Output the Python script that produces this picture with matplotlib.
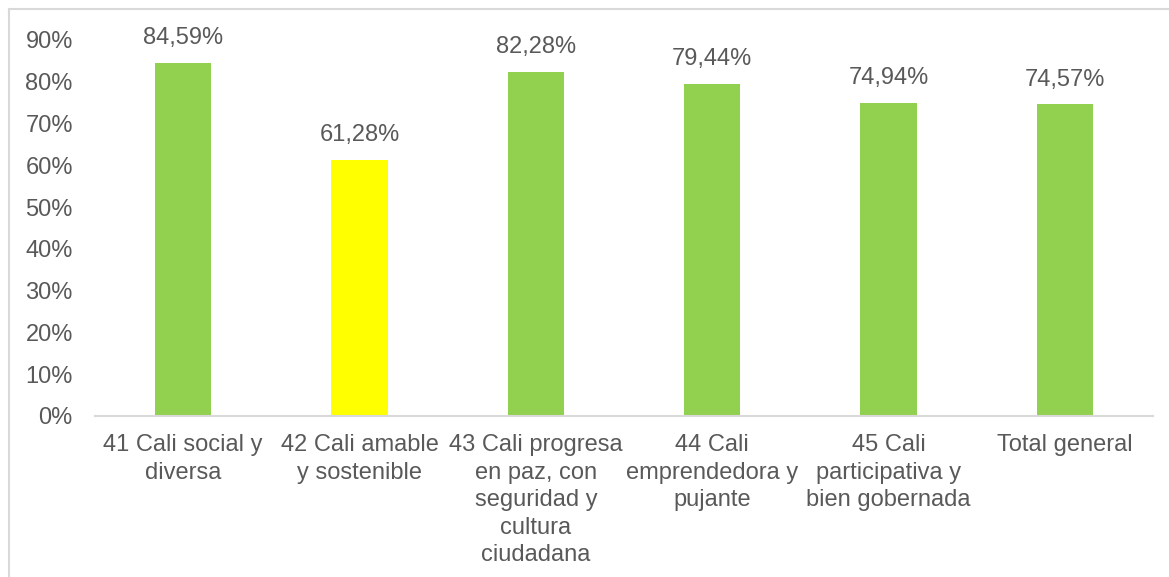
import matplotlib.pyplot as plt
from matplotlib.lines import Line2D
from matplotlib.ticker import PercentFormatter

categories = ['41 Cali social y\ndiversa', '42 Cali amable\ny sostenible',
              '43 Cali progresa\nen paz, con\nseguridad y\ncultura\nciudadana',
              '44 Cali\nemprendedora y\npujante', '45 Cali\nparticipativa y\nbien gobernada',
              'Total general']
values = [0.8459, 0.6128, 0.8228, 0.7944, 0.7494, 0.7457]
colors = ['#92D050', '#FFFF00', '#92D050', '#92D050', '#92D050', '#92D050']

plt.rcParams['font.family'] = ['Liberation Sans', 'DejaVu Sans']
txt = '#595959'

fig = plt.figure(figsize=(11.69, 5.77), dpi=100)
ax = fig.add_axes([95/1169, 1 - 416/577, (1153 - 95)/1169, (416 - 40)/577])

x = range(len(categories))
bars = ax.bar(x, values, width=0.32, color=colors)
for xi, v in zip(x, values):
    ax.annotate(f'{v*100:.2f}%'.replace('.', ','), (xi, v), xytext=(0, 10),
                textcoords='offset points', ha='center', va='bottom',
                fontsize=17, color=txt)

ax.set_xlim(-0.5, len(categories) - 0.5)
ax.set_ylim(0, 0.9)
ax.set_yticks([i/10 for i in range(10)])
ax.yaxis.set_major_formatter(PercentFormatter(1.0, decimals=0))
ax.set_xticks(list(x))
ax.set_xticklabels(categories, linespacing=1.33)
ax.tick_params(axis='both', length=0, labelsize=17, labelcolor=txt)
ax.tick_params(axis='y', pad=16)
ax.tick_params(axis='x', pad=13)

for s in ['top', 'right', 'left']:
    ax.spines[s].set_visible(False)
ax.spines['bottom'].set_color('#D9D9D9')
ax.spines['bottom'].set_linewidth(1.5)

# chart frame (left and top edges visible)
fig.add_artist(Line2D([9/1169, 9/1169], [0, 1 - 9/577], color='#D9D9D9', lw=1.5))
fig.add_artist(Line2D([9/1169, 1], [1 - 9/577, 1 - 9/577], color='#D9D9D9', lw=1.5))

fig.savefig('out.png', dpi=100)
